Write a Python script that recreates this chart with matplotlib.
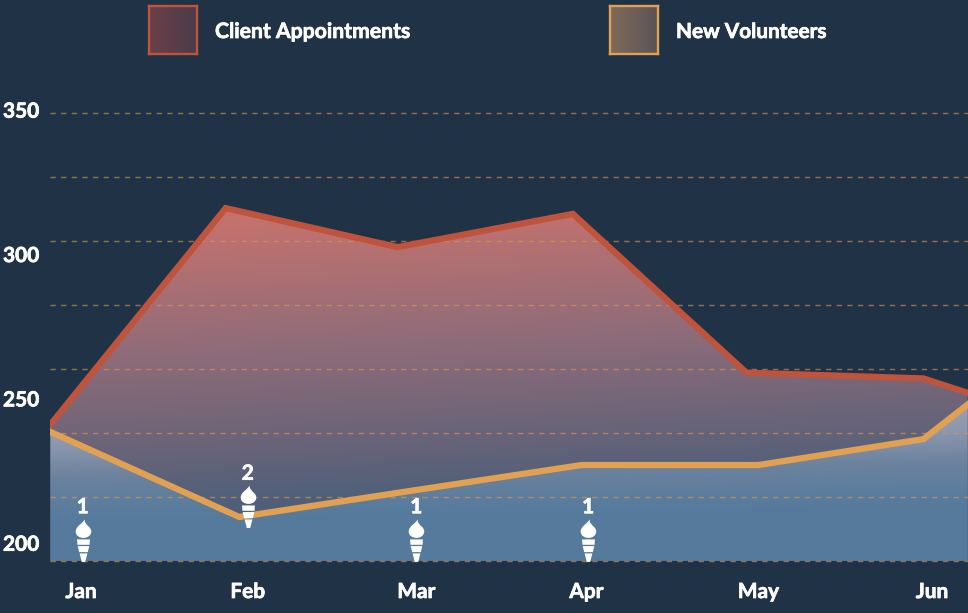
import numpy as np
import matplotlib
matplotlib.use("Agg")
import matplotlib.pyplot as plt
import matplotlib.patheffects as pe
from matplotlib.path import Path
from matplotlib.patches import Polygon, Rectangle
from matplotlib.colors import LinearSegmentedColormap

plt.rcParams['font.family'] = ['Lato', 'DejaVu Sans']

months = ["Jan", "Feb", "Mar", "Apr", "May", "Jun"]
month_pos = [0.0, 0.98, 1.97, 2.97, 3.98, 5.0]
y_ticks = [200, 250, 300, 350]
grid_levels = [193.8, 216.0, 238.1, 260.3, 282.5, 304.7, 326.8, 349.0]

# the two series do not sit on the month labels, nor on each other
client_x = [-0.18, 0.85, 1.86, 2.89, 3.91, 4.95, 5.21]
client_y = [241.0, 316.0, 302.5, 314.0, 259.0, 257.0, 252.0]
volunteer_x = [-0.18, 0.93, 1.93, 2.94, 3.98, 4.95, 5.21]
volunteer_y = [238.5, 209.0, 218.0, 227.0, 227.0, 236.0, 248.0]

torch_x = [0.01, 0.98, 1.97, 2.98]
torch_counts = [1, 2, 1, 1]
torch_levels = [201.2, 212.8, 201.2, 201.2]

BG = "#203245"
RED = "#bf533c"
ORANGE = "#e2a052"
WHITE = "#ffffff"
FS = 15

# pixel to data scale
W, H = 968, 613
X0, XS = 81.0, 170.2
Y200, YS = 543.0, 2.887

bold = [pe.withStroke(linewidth=0.5, foreground=WHITE)]


def torch_marker():
    # flame with a small slit, then three bands narrowing to a point
    verts = [(0.05, 1.0), (0.0, 0.8), (-0.34, 0.7), (-0.36, 0.44),
             (-0.38, 0.24), (-0.2, 0.12), (0.0, 0.12),
             (0.2, 0.12), (0.36, 0.24), (0.36, 0.42),
             (0.36, 0.52), (0.3, 0.6), (0.22, 0.66),
             (0.14, 0.76), (0.04, 0.82), (0.05, 1.0), (0.05, 1.0),
             (0.10, 0.62), (0.0, 0.5), (0.0, 0.4), (0.07, 0.38),
             (0.13, 0.4), (0.17, 0.46), (0.15, 0.52),
             (0.12, 0.5), (0.08, 0.52), (0.10, 0.62), (0.10, 0.62),
             (-0.3, 0.05), (0.3, 0.05), (0.28, -0.2), (-0.28, -0.2), (-0.3, 0.05),
             (-0.27, -0.26), (0.27, -0.26), (0.2, -0.54), (-0.2, -0.54), (-0.27, -0.26),
             (-0.18, -0.6), (0.18, -0.6), (0.08, -1.0), (-0.08, -1.0), (-0.18, -0.6)]
    codes = [Path.MOVETO] + [Path.CURVE4] * 15 + [Path.CLOSEPOLY] + \
            [Path.MOVETO] + [Path.CURVE4] * 9 + [Path.CLOSEPOLY] + \
            [Path.MOVETO, Path.LINETO, Path.LINETO, Path.LINETO, Path.CLOSEPOLY] * 3
    return Path(verts, codes)


def gradient_fill(ax, xs, ys, base, top, stops, zorder, tilt=0.12):
    cmap = LinearSegmentedColormap.from_list("g", stops)
    u, v = np.meshgrid(np.linspace(0, 1, 300), np.linspace(0, 1, 300))
    grad = np.clip(v + tilt * (u - 0.5), 0, 1)
    im = ax.imshow(grad, cmap=cmap, vmin=0, vmax=1, aspect="auto", zorder=zorder,
                   extent=[xlim[0], xlim[1], base, top],
                   origin="upper", interpolation="bilinear")
    poly = Polygon(list(zip(xs, ys)) + [(xs[-1], base), (xs[0], base)],
                   closed=True, transform=ax.transData, fc="none", ec="none")
    ax.add_patch(poly)
    im.set_clip_path(poly)


fig = plt.figure(figsize=(W / 100, H / 100), dpi=100, facecolor=BG)
ax = fig.add_axes([0, 0, 1, 1], facecolor=BG)
xlim = ((0 - X0) / XS, (W - X0) / XS)
ylim = (200 - (H - Y200) / YS, 200 + Y200 / YS)

base = grid_levels[0]
gradient_fill(ax, client_x, client_y, base, 316.0,
              [(0.0, "#c4726e"), (0.37, "#8f6c79"), (0.63, "#6b6478"),
               (0.8, "#50607a"), (1.0, "#4a5d78")], 1)
gradient_fill(ax, volunteer_x, volunteer_y, base, 248.0,
              [(0.0, "#a5a2b0"), (0.22, "#8a97ae"), (0.42, "#6c829d"),
               (0.68, "#567b9d"), (1.0, "#557a9c")], 2, tilt=0.1)

ax.hlines(grid_levels, client_x[0], xlim[1], colors="#d9964f", linewidth=1.0,
          linestyles=(0, (3.8, 3.85)), alpha=0.65, zorder=3)

clip = Rectangle((client_x[0], ylim[0]), xlim[1] - client_x[0], ylim[1] - ylim[0],
                 transform=ax.transData)
for xs, ys, col, z in [(client_x, client_y, RED, 4), (volunteer_x, volunteer_y, ORANGE, 5)]:
    line, = ax.plot(xs, ys, color=col, linewidth=4.5, solid_joinstyle="miter", zorder=z)
    line.set_clip_path(clip)

torch = torch_marker()
for x, n, lvl in zip(torch_x, torch_counts, torch_levels):
    ax.scatter([x], [lvl], marker=torch, s=960, color=WHITE, linewidths=0, zorder=6)
    ax.text(x, lvl + 11.2, str(n), color=WHITE, fontsize=FS, fontweight="bold",
            ha="center", va="center", zorder=7, path_effects=bold)

ax.set_xlim(xlim)
ax.set_ylim(ylim)
ax.set_xticks([])
ax.set_yticks([])
for s in ax.spines.values():
    s.set_visible(False)

for x, m in zip(month_pos, months):
    ax.text(x, 200 - (592 - Y200) / YS, m, color=WHITE, fontsize=FS, fontweight="bold",
            ha="center", va="center", path_effects=bold)
for v in y_ticks:
    ax.text((3 - X0) / XS, v - 0.6, str(v), color=WHITE, fontsize=FS, fontweight="bold",
            ha="left", va="center", path_effects=bold)

# legend, placed by hand in figure pixels
for x0, col, c_left, c_right, lab, size in [
        (149, RED, "#6b404a", "#4b3b49", "Client Appointments", 15.25),
        (610, ORANGE, "#80695a", "#5b5555", "New Volunteers", 14.95)]:
    swatch = fig.add_axes([x0 / W, 1 - 54 / H, 48 / W, 48 / H])
    swatch.imshow(np.linspace(0, 1, 64).reshape(1, -1), aspect="auto",
                  cmap=LinearSegmentedColormap.from_list("s", [c_left, c_right]))
    swatch.set_xticks([])
    swatch.set_yticks([])
    for s in swatch.spines.values():
        s.set_color(col)
        s.set_linewidth(1.7)
    fig.text((x0 + 66) / W, 1 - 32 / H, lab, color=WHITE, fontsize=size, fontweight="bold",
             ha="left", va="center", path_effects=bold)

fig.savefig("out.png", dpi=100, facecolor=BG)
